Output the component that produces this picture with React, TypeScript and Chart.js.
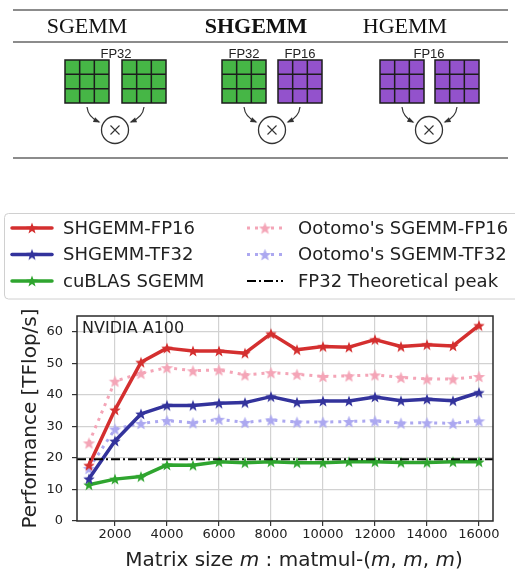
import React, { useEffect, useRef } from 'react';
import { Chart, registerables } from 'chart.js';

Chart.register(...registerables);

// ---------------- data ----------------
const MATRIX_SIZES = [1000, 2000, 3000, 4000, 5000, 6000, 7000, 8000, 9000, 10000, 11000, 12000, 13000, 14000, 15000, 16000];
const SHGEMM_FP16 = [17.7, 35.3, 50.4, 54.9, 54.0, 54.0, 53.3, 59.5, 54.4, 55.4, 55.2, 57.6, 55.4, 56.0, 55.6, 62.1];
const SHGEMM_TF32 = [13.4, 25.4, 34.0, 36.7, 36.7, 37.4, 37.6, 39.5, 37.7, 38.1, 38.1, 39.4, 38.2, 38.7, 38.2, 40.8];
const CUBLAS_SGEMM = [11.5, 13.3, 14.1, 17.8, 17.7, 18.8, 18.5, 18.8, 18.5, 18.5, 18.8, 18.8, 18.6, 18.6, 18.8, 18.8];
const OOTOMO_SGEMM_FP16 = [24.8, 44.4, 46.9, 48.7, 47.7, 48.0, 46.4, 47.1, 46.6, 45.9, 46.1, 46.4, 45.6, 45.1, 45.1, 45.9];
const OOTOMO_SGEMM_TF32 = [16.7, 29.2, 31.0, 31.9, 31.2, 32.3, 31.3, 32.1, 31.4, 31.4, 31.6, 31.8, 31.1, 31.2, 31.0, 31.8];
const FP32_PEAK = 19.6;
const X_TICKS = [2000, 4000, 6000, 8000, 10000, 12000, 14000, 16000];
const Y_TICKS = [0, 10, 20, 30, 40, 50, 60];
const SERIES_LABELS = ['SHGEMM-FP16', 'SHGEMM-TF32', 'cuBLAS SGEMM', "Ootomo's SGEMM-FP16", "Ootomo's SGEMM-TF32", 'FP32 Theoretical peak'];
const X_LIMITS = [540, 16540];
const Y_LIMITS = [0, 65.1];
const GPU_LABEL = 'NVIDIA A100';
const Y_TITLE = 'Performance [TFlop/s]';
// x title segments: [text, italic]
const X_TITLE: [string, boolean][] = [
  ['Matrix size ', false], ['m', true], [' : matmul-(', false], ['m', true], [', ', false],
  ['m', true], [', ', false], ['m', true], [')', false],
];

// diagram content
const DIAGRAM_GROUPS = [
  { title: 'SGEMM', bold: false, titleX: 87, cx: 115, grids: [{ x: 65, kind: 'FP32' }, { x: 122, kind: 'FP32' }], labels: [{ text: 'FP32', x: 116 }] },
  { title: 'SHGEMM', bold: true, titleX: 256, cx: 272, grids: [{ x: 222, kind: 'FP32' }, { x: 278, kind: 'FP16' }], labels: [{ text: 'FP32', x: 244 }, { text: 'FP16', x: 300 }] },
  { title: 'HGEMM', bold: false, titleX: 405, cx: 429, grids: [{ x: 380, kind: 'FP16' }, { x: 435, kind: 'FP16' }], labels: [{ text: 'FP16', x: 429 }] },
];

// ---------------- styles ----------------
const FONT = "'DejaVu Sans', sans-serif";
const TEXT = '#222';
const C_RED = '#d42f2f';
const C_BLUE = '#33339c';
const C_GREEN = '#2fa52f';
const C_PINK = '#f4a5b7';
const C_LAV = '#aca8f0';
const GRID_FP32 = '#46b646';
const GRID_FP16 = '#9352cc';

function makeStar(color: string, r: number): HTMLCanvasElement {
  const size = Math.ceil(r * 2 + 2);
  const c = document.createElement('canvas');
  c.width = size;
  c.height = size;
  const g = c.getContext('2d')!;
  g.translate(size / 2, size / 2 + r * 0.1);
  g.beginPath();
  for (let i = 0; i < 10; i++) {
    const rr = i % 2 === 0 ? r : r * 0.42;
    const a = -Math.PI / 2 + (i * Math.PI) / 5;
    g.lineTo(rr * Math.cos(a), rr * Math.sin(a));
  }
  g.closePath();
  g.fillStyle = color;
  g.fill();
  return c;
}

function drawArrow(ctx: CanvasRenderingContext2D, sx: number, sy: number, qx: number, qy: number, ex: number, ey: number) {
  ctx.beginPath();
  ctx.moveTo(sx, sy);
  ctx.quadraticCurveTo(qx, qy, ex, ey);
  ctx.stroke();
  const ang = Math.atan2(ey - qy, ex - qx);
  const L = 5.5;
  const W = 2.6;
  ctx.beginPath();
  ctx.moveTo(ex + Math.cos(ang) * 1.5, ey + Math.sin(ang) * 1.5);
  ctx.lineTo(ex - Math.cos(ang) * L + Math.sin(ang) * W, ey - Math.sin(ang) * L - Math.cos(ang) * W);
  ctx.lineTo(ex - Math.cos(ang) * L - Math.sin(ang) * W, ey - Math.sin(ang) * L + Math.cos(ang) * W);
  ctx.closePath();
  ctx.fill();
}

const backgroundPlugin = {
  id: 'bg',
  beforeDraw(chart: any) {
    const { ctx, width, height } = chart;
    ctx.save();
    ctx.fillStyle = '#fff';
    ctx.fillRect(0, 0, width, height);
    ctx.restore();
  },
};

const diagramPlugin = {
  id: 'diagram',
  afterDraw(chart: any) {
    const ctx: CanvasRenderingContext2D = chart.ctx;
    ctx.save();
    // rules
    ctx.strokeStyle = '#8c8c8c';
    ctx.lineWidth = 2;
    [10, 42, 158].forEach((y) => {
      ctx.beginPath();
      ctx.moveTo(13, y);
      ctx.lineTo(508, y);
      ctx.stroke();
    });
    const gs = 44;
    const gh = 43;
    const gy = 60;
    const cy = 130;
    const cr = 13.5;
    DIAGRAM_GROUPS.forEach((grp) => {
      ctx.fillStyle = '#111';
      ctx.font = `${grp.bold ? 'bold ' : ''}22px 'Liberation Serif', 'DejaVu Serif', serif`;
      ctx.textAlign = 'center';
      ctx.textBaseline = 'alphabetic';
      ctx.fillText(grp.title, grp.titleX, 33);
      ctx.font = "13px 'Liberation Sans', sans-serif";
      ctx.fillStyle = '#222';
      grp.labels.forEach((l) => ctx.fillText(l.text, l.x, 57.5));
      grp.grids.forEach((gd) => {
        ctx.fillStyle = gd.kind === 'FP32' ? GRID_FP32 : GRID_FP16;
        ctx.fillRect(gd.x, gy, gs, gh);
        ctx.strokeStyle = '#1c1c1c';
        ctx.lineWidth = 1.5;
        ctx.strokeRect(gd.x, gy, gs, gh);
        ctx.beginPath();
        for (let i = 1; i < 3; i++) {
          ctx.moveTo(gd.x + (i * gs) / 3, gy);
          ctx.lineTo(gd.x + (i * gs) / 3, gy + gh);
          ctx.moveTo(gd.x, gy + (i * gh) / 3);
          ctx.lineTo(gd.x + gs, gy + (i * gh) / 3);
        }
        ctx.stroke();
      });
      // circle with x
      ctx.strokeStyle = '#333';
      ctx.lineWidth = 1.3;
      ctx.beginPath();
      ctx.arc(grp.cx, cy, cr, 0, Math.PI * 2);
      ctx.stroke();
      ctx.lineWidth = 1.1;
      ctx.beginPath();
      ctx.moveTo(grp.cx - 4.5, cy - 4.5);
      ctx.lineTo(grp.cx + 4.5, cy + 4.5);
      ctx.moveTo(grp.cx + 4.5, cy - 4.5);
      ctx.lineTo(grp.cx - 4.5, cy + 4.5);
      ctx.stroke();
      // arrows
      ctx.strokeStyle = '#333';
      ctx.fillStyle = '#333';
      ctx.lineWidth = 1.2;
      const l = grp.grids[0].x + gs / 2;
      const r = grp.grids[1].x + gs / 2;
      drawArrow(ctx, l, 107, l + 1, 117, grp.cx - 16, cy - 8);
      drawArrow(ctx, r, 107, r - 1, 117, grp.cx + 16, cy - 8);
    });
    ctx.restore();
  },
};

const framePlugin = {
  id: 'frame',
  afterDatasetsDraw(chart: any) {
    const { ctx, chartArea: a } = chart;
    ctx.save();
    ctx.strokeStyle = '#2a2a2a';
    ctx.lineWidth = 1.5;
    ctx.strokeRect(a.left, a.top, a.right - a.left, a.bottom - a.top);
    ctx.fillStyle = TEXT;
    ctx.font = `16px ${FONT}`;
    ctx.textAlign = 'left';
    ctx.textBaseline = 'alphabetic';
    ctx.fillText(GPU_LABEL, a.left + 5, a.top + 17);
    ctx.restore();
  },
};

const xTitlePlugin = {
  id: 'xtitle',
  afterDraw(chart: any) {
    const ctx: CanvasRenderingContext2D = chart.ctx;
    ctx.save();
    const normal = `20px ${FONT}`;
    const italic = `italic 20px ${FONT}`;
    let total = 0;
    X_TITLE.forEach(([t, it]) => {
      ctx.font = it ? italic : normal;
      total += ctx.measureText(t).width;
    });
    let x = 294 - total / 2;
    ctx.fillStyle = TEXT;
    ctx.textAlign = 'left';
    ctx.textBaseline = 'alphabetic';
    X_TITLE.forEach(([t, it]) => {
      ctx.font = it ? italic : normal;
      ctx.fillText(t, x, 565.5);
      x += ctx.measureText(t).width;
    });
    ctx.restore();
  },
};

const legendPlugin = {
  id: 'customLegend',
  afterDraw(chart: any) {
    const ctx: CanvasRenderingContext2D = chart.ctx;
    ctx.save();
    // box
    const bx = 4.5, by = 213.5, bw = 520, bh = 85.5, rad = 4;
    ctx.beginPath();
    ctx.moveTo(bx + rad, by);
    ctx.lineTo(bx + bw, by);
    ctx.lineTo(bx + bw, by + bh);
    ctx.lineTo(bx + rad, by + bh);
    ctx.arcTo(bx, by + bh, bx, by + bh - rad, rad);
    ctx.lineTo(bx, by + rad);
    ctx.arcTo(bx, by, bx + rad, by, rad);
    ctx.closePath();
    ctx.fillStyle = '#fff';
    ctx.fill();
    ctx.strokeStyle = '#d0d0d0';
    ctx.lineWidth = 1;
    ctx.stroke();
    const rows = [228, 254.5, 281];
    const cols = [{ x0: 12, x1: 52, tx: 63 }, { x0: 247, x1: 283, tx: 298 }];
    chart.data.datasets.forEach((ds: any, i: number) => {
      const col = cols[i < 3 ? 0 : 1];
      const y = rows[i % 3];
      ctx.save();
      ctx.strokeStyle = ds.borderColor;
      ctx.lineWidth = ds.borderWidth;
      ctx.setLineDash(ds.borderDash || []);
      ctx.lineCap = ds.borderCapStyle || 'butt';
      ctx.beginPath();
      ctx.moveTo(col.x0, y);
      ctx.lineTo(col.x1, y);
      ctx.stroke();
      ctx.restore();
      if (ds.pointStyle && typeof ds.pointStyle === 'object') {
        const img = ds.pointStyle as HTMLCanvasElement;
        const cxm = (col.x0 + col.x1) / 2;
        ctx.drawImage(img, cxm - img.width / 2, y - img.height / 2);
      }
      ctx.fillStyle = TEXT;
      ctx.font = `18px ${FONT}`;
      ctx.textAlign = 'left';
      ctx.textBaseline = 'middle';
      ctx.fillText(ds.label, col.tx, y + 1);
    });
    ctx.restore();
  },
};

function pts(values: number[]) {
  return MATRIX_SIZES.map((x, i) => ({ x, y: values[i] }));
}

export default function App() {
  const ref = useRef<HTMLCanvasElement | null>(null);

  useEffect(() => {
    if (!ref.current) return;
    const solid = (label: string, values: number[], color: string, order: number) => ({
      label,
      data: pts(values),
      borderColor: color,
      backgroundColor: color,
      borderWidth: 3.5,
      borderJoinStyle: 'round',
      borderCapStyle: 'round',
      pointStyle: makeStar(color, 6),
      pointRadius: 6,
      tension: 0,
      order,
    });
    const dotted = (label: string, values: number[], color: string, order: number) => ({
      label,
      data: pts(values),
      borderColor: color,
      backgroundColor: color,
      borderWidth: 3,
      borderDash: [3, 5],
      borderCapStyle: 'butt',
      pointStyle: makeStar(color, 6.5),
      pointRadius: 6,
      tension: 0,
      order,
    });
    const chart = new Chart(ref.current, {
      type: 'line',
      data: {
        datasets: [
          solid(SERIES_LABELS[0], SHGEMM_FP16, C_RED, 1),
          solid(SERIES_LABELS[1], SHGEMM_TF32, C_BLUE, 2),
          solid(SERIES_LABELS[2], CUBLAS_SGEMM, C_GREEN, 3),
          dotted(SERIES_LABELS[3], OOTOMO_SGEMM_FP16, C_PINK, 4),
          dotted(SERIES_LABELS[4], OOTOMO_SGEMM_TF32, C_LAV, 5),
          {
            label: SERIES_LABELS[5],
            data: X_LIMITS.map((x) => ({ x, y: FP32_PEAK })),
            borderColor: '#000',
            backgroundColor: '#000',
            borderWidth: 2,
            borderDash: [9, 3, 2, 3],
            pointRadius: 0,
            pointStyle: false,
            order: 0,
          } as any,
        ] as any,
      },
      options: {
        animation: false,
        responsive: false,
        maintainAspectRatio: false,
        layout: { padding: { top: 316, right: 22, left: 0, bottom: 0 } },
        plugins: { legend: { display: false }, tooltip: { enabled: false } },
        events: [],
        scales: {
          x: {
            type: 'linear',
            min: X_LIMITS[0],
            max: X_LIMITS[1],
            afterBuildTicks: (s: any) => {
              s.ticks = X_TICKS.map((v) => ({ value: v }));
            },
            afterFit: (s: any) => {
              s.height = 56;
            },
            ticks: {
              callback: (v: any) => String(v),
              font: { family: FONT, size: 13 },
              color: TEXT,
              padding: 1,
              maxRotation: 0,
              autoSkip: false,
            },
            grid: { color: '#d2d2d2', lineWidth: 1.2, tickLength: 5, tickColor: '#333', tickWidth: 1.2 },
            border: { display: false },
          },
          y: {
            type: 'linear',
            min: Y_LIMITS[0],
            max: Y_LIMITS[1],
            afterBuildTicks: (s: any) => {
              s.ticks = Y_TICKS.map((v) => ({ value: v }));
            },
            afterFit: (s: any) => {
              s.width = 77;
            },
            ticks: {
              callback: (v: any) => String(v),
              font: { family: FONT, size: 13 },
              color: TEXT,
              padding: 9,
            },
            grid: { color: '#d2d2d2', lineWidth: 1.2, tickLength: 5, tickColor: '#333', tickWidth: 1.2 },
            border: { display: false },
            title: {
              display: true,
              text: Y_TITLE,
              color: TEXT,
              font: { family: FONT, size: 20 },
              padding: { top: 19, bottom: 0 },
            },
          },
        },
      } as any,
      plugins: [backgroundPlugin, framePlugin, legendPlugin, xTitlePlugin, diagramPlugin],
    });
    return () => chart.destroy();
  }, []);

  return (
    <div style={{ position: 'absolute', left: 0, top: 0, width: 515, height: 577, background: '#fff' }}>
      <canvas ref={ref} width={515} height={577} style={{ display: 'block', width: 515, height: 577 }} />
    </div>
  );
}
